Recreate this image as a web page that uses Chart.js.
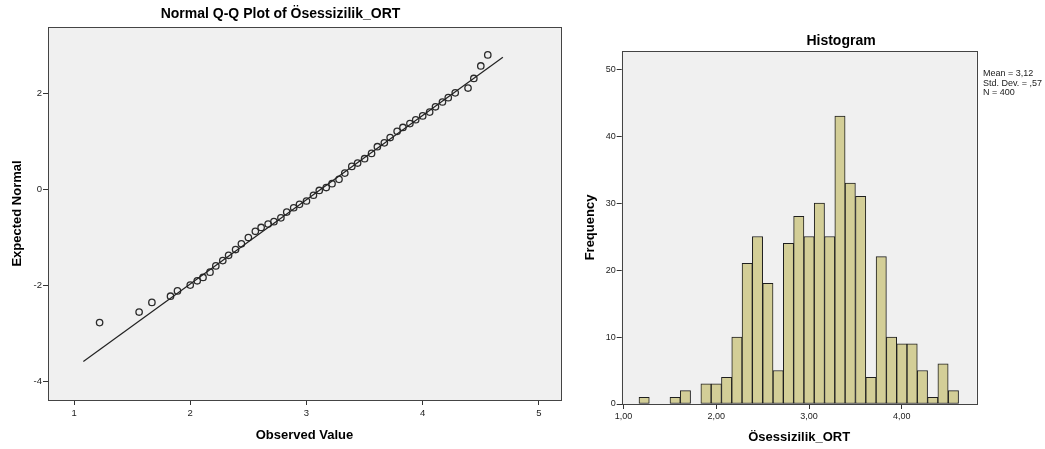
<!DOCTYPE html>
<html>
<head>
<meta charset="utf-8">
<title>Ösessizilik_ORT</title>
<script src="https://cdn.jsdelivr.net/npm/chart.js@4/dist/chart.umd.min.js"></script>
<style>
  html, body { margin: 0; padding: 0; background: #fff; }
  #wrap { position: relative; width: 1045px; height: 449px; overflow: hidden; font-family: "Liberation Sans", Arial, sans-serif; }
  #qq { position: absolute; left: 0; top: 0; }
  #hist { position: absolute; left: 575px; top: 0; }
  #histTitle { position: absolute; left: 741px; top: 32px; width: 200px; text-align: center; font-size: 14px; font-weight: bold; line-height: 17px; color: #000; }
  #stats { position: absolute; left: 983px; top: 69px; font-size: 9px; line-height: 9.5px; color: #222; white-space: nowrap; }
</style>
</head>
<body>
<div id="wrap">
  <canvas id="qq" width="575" height="449"></canvas>
  <canvas id="hist" width="470" height="449"></canvas>
  <div id="histTitle">Histogram</div>
  <div id="stats"></div>
</div>
<script>
// Q-Q plot: distinct observed values and their expected normal scores
var qqObserved = [1.22, 1.56, 1.67, 1.83, 1.89, 2.00, 2.06, 2.11, 2.17, 2.22, 2.28, 2.33, 2.39, 2.44,
  2.50, 2.56, 2.61, 2.67, 2.72, 2.78, 2.83, 2.89, 2.94, 3.00, 3.06, 3.11, 3.17, 3.22, 3.28, 3.33, 3.39, 3.44,
  3.50, 3.56, 3.61, 3.67, 3.72, 3.78, 3.83, 3.89, 3.94, 4.00, 4.06, 4.11, 4.17, 4.22, 4.28, 4.39, 4.44, 4.50, 4.56];
var qqExpected = [-2.77, -2.55, -2.35, -2.22, -2.11, -1.99, -1.90, -1.83, -1.72, -1.59, -1.48, -1.37, -1.25, -1.13,
  -1.00, -0.87, -0.79, -0.72, -0.67, -0.59, -0.47, -0.38, -0.31, -0.24, -0.12, -0.02, 0.04, 0.12, 0.21, 0.34, 0.48, 0.55,
  0.64, 0.75, 0.89, 0.97, 1.08, 1.21, 1.29, 1.37, 1.45, 1.53, 1.61, 1.72, 1.82, 1.91, 2.01, 2.11, 2.31, 2.57, 2.80];
// reference line end points
var lineX = [1.08, 4.69];
var lineY = [-3.58, 2.75];
var qqXTicks = [1, 2, 3, 4, 5];
var qqYTicks = [-4, -2, 0, 2];

// Histogram: bin centres and frequencies
var binCenters = [1.222, 1.333, 1.444, 1.556, 1.667, 1.778, 1.889, 2.000, 2.111, 2.222, 2.333, 2.444, 2.556,
  2.667, 2.778, 2.889, 3.000, 3.111, 3.222, 3.333, 3.444, 3.556, 3.667, 3.778, 3.889, 4.000, 4.111, 4.222,
  4.333, 4.444, 4.556];
var frequencies = [1, 0, 0, 1, 2, 0, 3, 3, 4, 10, 21, 25, 18, 5, 24, 28, 25, 30, 25, 43, 33, 31, 4, 22, 10, 9, 9,
  5, 1, 6, 2];
var histXTicks = [1, 2, 3, 4];
var histYTicks = [0, 10, 20, 30, 40, 50];
var statLines = ['Mean = 3,12', 'Std. Dev. = ,57', 'N = 400'];

document.addEventListener('DOMContentLoaded', function () {
  var FONT = '"Liberation Sans", Arial, sans-serif';
  Chart.defaults.font.family = FONT;
  Chart.defaults.color = '#222';

  // grey plot area with a dark frame
  var plotFrame = {
    id: 'plotFrame',
    beforeDatasetsDraw: function (chart) {
      var a = chart.chartArea;
      var ctx = chart.ctx;
      ctx.save();
      ctx.fillStyle = '#f0f0f0';
      ctx.fillRect(a.left, a.top, a.right - a.left, a.bottom - a.top);
      ctx.strokeStyle = '#444';
      ctx.lineWidth = 1;
      ctx.strokeRect(Math.round(a.left) + 0.5, Math.round(a.top) + 0.5,
        Math.round(a.right - a.left), Math.round(a.bottom - a.top));
      ctx.restore();
    }
  };

  function fixedTicks(list) {
    return function (scale) {
      scale.ticks = list.map(function (v) { return { value: v }; });
    };
  }

  function axis(opts) {
    return {
      type: 'linear',
      min: opts.min,
      max: opts.max,
      offset: false,
      afterBuildTicks: fixedTicks(opts.ticks),
      afterFit: opts.fit,
      border: { display: false },
      grid: { drawOnChartArea: false, offset: false, tickLength: 5, color: '#333' },
      ticks: { font: { size: opts.tickSize }, color: '#222', padding: opts.pad, callback: opts.format },
      title: {
        display: true,
        text: opts.title,
        color: '#000',
        font: { size: 13, weight: 'bold' },
        padding: opts.titlePad
      }
    };
  }

  var qqPoints = qqObserved.map(function (x, i) {
    return { x: x, y: qqExpected[i] };
  });
  var qqLine = lineX.map(function (x, i) {
    return { x: x, y: lineY[i] };
  });

  new Chart(document.getElementById('qq'), {
    type: 'scatter',
    data: {
      datasets: [{
        type: 'line',
        data: qqLine,
        borderColor: '#222',
        borderWidth: 1.2,
        pointRadius: 0,
        showLine: true,
        fill: false
      }, {
        data: qqPoints,
        pointStyle: 'circle',
        pointRadius: 3.2,
        borderWidth: 1.3,
        borderColor: '#2b2b2b',
        backgroundColor: 'rgba(0,0,0,0)'
      }]
    },
    options: {
      responsive: false,
      animation: false,
      layout: { padding: { left: 0, right: 14, top: 0, bottom: 0 } },
      plugins: {
        legend: { display: false },
        tooltip: { enabled: false },
        title: {
          display: true,
          text: 'Normal Q-Q Plot of Ösessizilik_ORT',
          color: '#000',
          font: { size: 14, weight: 'bold' },
          padding: { top: 6, bottom: 4.2 }
        }
      },
      scales: {
        x: axis({
          min: 0.776, max: 5.19, ticks: qqXTicks, tickSize: 9.5, pad: 3,
          title: 'Observed Value', titlePad: { top: 0, bottom: 6 },
          fit: function (s) { s.height = 49; }
        }),
        y: axis({
          min: -4.38, max: 3.38, ticks: qqYTicks, tickSize: 9.5, pad: 1,
          title: 'Expected Normal', titlePad: { top: 10, bottom: 0 },
          fit: function (s) { s.width = 48; }
        })
      }
    },
    plugins: [plotFrame]
  });

  var histData = binCenters.map(function (c, i) {
    return { x: c, y: frequencies[i] };
  });

  var histX = axis({
    min: 0.98, max: 4.807, ticks: histXTicks, tickSize: 9, pad: 2,
    title: 'Ösessizilik_ORT', titlePad: { top: 0, bottom: 4.2 },
    format: function (v) { return v.toFixed(2).replace('.', ','); },
    fit: function (s) { s.height = 45; }
  });
  var histY = axis({
    min: 0, max: 52.7, ticks: histYTicks, tickSize: 9, pad: 1,
    title: 'Frequency', titlePad: { top: 7.2, bottom: 0 },
    fit: function (s) { s.width = 46.7; }
  });

  new Chart(document.getElementById('hist'), {
    type: 'bar',
    data: {
      datasets: [{
        data: histData,
        backgroundColor: '#d3ce97',
        borderColor: '#1e1e1e',
        borderWidth: 1,
        borderSkipped: false,
        barPercentage: 1,
        categoryPercentage: 1
      }]
    },
    options: {
      responsive: false,
      animation: false,
      // title sits in an html div, so keep its space here
      layout: { padding: { left: 0, right: 68.3, top: 51, bottom: 0 } },
      plugins: {
        legend: { display: false },
        tooltip: { enabled: false },
        title: { display: false }
      },
      scales: { x: histX, y: histY }
    },
    plugins: [plotFrame]
  });

  // summary statistics beside the histogram
  document.getElementById('stats').innerHTML = statLines.map(function (s) {
    return '<div>' + s + '</div>';
  }).join('');
});
</script>
</body>
</html>
